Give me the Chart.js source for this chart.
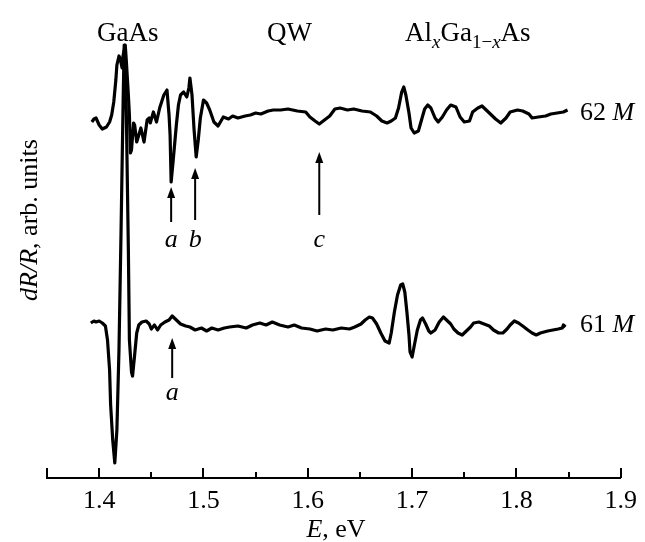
<!DOCTYPE html>
<html>
<head>
<meta charset="utf-8">
<script src="https://cdn.jsdelivr.net/npm/chart.js@4.4.1/dist/chart.umd.min.js"></script>
<style>
html,body{margin:0;padding:0;background:#fff;}
canvas{display:block;}
</style>
</head>
<body>
<canvas id="c" width="645" height="542"></canvas>
<script>
// ---- DATA ----
// Photon energy E (eV) for sample 62 M
const energy62 = [1.393,1.395,1.397,1.400,1.403,1.407,1.410,1.412,1.414,1.416,1.417,1.419,1.420,1.422,1.423,1.425,1.426,1.428,1.429,1.430,1.431,1.433,1.434,1.436,1.438,1.440,1.443,1.446,1.448,1.449,1.452,1.455,1.458,1.462,1.465,1.467,1.468,1.469,1.471,1.474,1.476,1.478,1.481,1.484,1.486,1.487,1.489,1.491,1.493,1.495,1.497,1.500,1.503,1.506,1.510,1.514,1.519,1.524,1.528,1.533,1.540,1.545,1.550,1.555,1.562,1.567,1.574,1.581,1.590,1.598,1.602,1.607,1.611,1.616,1.621,1.626,1.631,1.638,1.644,1.652,1.660,1.666,1.671,1.676,1.680,1.684,1.687,1.690,1.692,1.694,1.697,1.699,1.702,1.706,1.709,1.712,1.715,1.718,1.722,1.725,1.729,1.733,1.737,1.742,1.746,1.750,1.755,1.758,1.763,1.767,1.771,1.775,1.780,1.785,1.790,1.794,1.801,1.806,1.812,1.815,1.821,1.828,1.833,1.839,1.845,1.849];
// dR/R (arb. units) for sample 62 M
const dRR62 = [-0.09,-0.06,-0.05,-0.12,-0.16,-0.14,-0.09,-0.02,0.11,0.33,0.48,0.57,0.55,0.45,0.58,0.68,0.53,0.18,-0.02,-0.40,-0.37,-0.10,-0.12,-0.29,-0.22,-0.15,-0.29,-0.07,-0.05,-0.10,0.01,-0.09,0.05,0.18,0.23,-0.02,-0.22,-0.69,-0.47,-0.12,0.08,0.18,0.21,0.16,0.25,0.35,0.18,-0.17,-0.44,-0.27,-0.05,0.13,0.10,0.03,-0.09,-0.13,-0.04,-0.06,-0.03,-0.05,-0.03,-0.02,0.00,-0.01,0.02,0.03,0.03,0.04,0.02,0.01,-0.04,-0.08,-0.11,-0.07,-0.03,0.04,0.05,0.03,0.04,0.02,0.01,-0.03,-0.08,-0.10,-0.08,-0.05,0.05,0.21,0.26,0.18,0.00,-0.15,-0.20,-0.18,-0.07,0.04,0.08,0.05,-0.05,-0.09,-0.04,0.03,0.08,0.06,-0.04,-0.09,-0.08,0.01,0.05,0.07,0.03,-0.01,-0.06,-0.10,-0.05,0.01,0.03,0.02,-0.01,-0.05,-0.04,-0.03,-0.01,0.00,0.01,0.03];

// Photon energy E (eV) for sample 61 M
const energy61 = [1.392,1.395,1.397,1.400,1.403,1.406,1.408,1.410,1.411,1.413,1.415,1.417,1.419,1.421,1.423,1.424,1.426,1.428,1.429,1.431,1.432,1.434,1.436,1.438,1.441,1.445,1.448,1.450,1.453,1.456,1.459,1.463,1.467,1.470,1.474,1.478,1.483,1.487,1.492,1.498,1.503,1.508,1.514,1.520,1.525,1.533,1.541,1.547,1.554,1.560,1.566,1.573,1.581,1.587,1.594,1.602,1.609,1.617,1.624,1.632,1.640,1.645,1.651,1.655,1.659,1.662,1.666,1.670,1.674,1.678,1.680,1.683,1.686,1.689,1.691,1.693,1.695,1.697,1.698,1.700,1.702,1.705,1.708,1.710,1.713,1.716,1.718,1.722,1.726,1.730,1.733,1.737,1.740,1.744,1.748,1.752,1.756,1.759,1.764,1.769,1.774,1.778,1.783,1.787,1.791,1.794,1.798,1.802,1.806,1.811,1.815,1.819,1.823,1.830,1.835,1.840,1.844,1.845,1.847];
// dR/R (arb. units) for sample 61 M
const dRR61 = [0.02,0.04,0.03,0.04,0.02,-0.01,-0.15,-0.45,-0.80,-1.15,-1.38,-1.05,-0.25,0.95,2.25,2.80,2.15,0.75,-0.15,-0.47,-0.51,-0.30,-0.08,0.00,0.03,0.04,0.01,-0.04,0.00,-0.05,0.00,0.03,0.05,0.09,0.05,0.01,-0.01,-0.02,-0.05,-0.03,-0.06,-0.03,-0.05,-0.03,-0.02,-0.01,-0.03,0.00,0.02,0.00,0.03,0.00,-0.02,0.00,-0.03,-0.04,-0.06,-0.04,-0.05,-0.03,-0.04,-0.02,0.01,0.05,0.08,0.07,0.01,-0.08,-0.16,-0.18,-0.08,0.13,0.30,0.40,0.41,0.33,0.13,-0.10,-0.27,-0.32,-0.21,-0.05,0.05,0.07,0.01,-0.06,-0.08,-0.05,0.03,0.08,0.05,0.01,-0.04,-0.08,-0.10,-0.06,-0.02,0.02,0.03,0.01,-0.01,-0.05,-0.08,-0.08,-0.04,0.00,0.04,0.02,-0.01,-0.05,-0.08,-0.10,-0.08,-0.06,-0.05,-0.04,-0.03,0.00,-0.02];

// Vertical offsets of the two curves (arb. units)
const offset62 = 3.65;
const offset61 = 1.53;

// X-axis ticks
const xMin = 1.35, xMax = 1.9, xStep = 0.05;
const majorTicks = [1.4, 1.5, 1.6, 1.7, 1.8, 1.9];

// Annotation arrows: energy, tip, tail, label position, letter
const arrowE   = [1.469, 1.492, 1.611, 1.470];
const arrowTip = [2.91, 3.10, 3.26, 1.40];
const arrowTail= [2.56, 2.58, 2.63, 1.00];
const arrowLbl = [2.38, 2.38, 2.38, 0.85];
const arrowTxt = ['a', 'b', 'c', 'a'];

const FONT = '"Liberation Serif", "Times New Roman", serif';
const FS = 26;

function mk(xs, ys, off){ return xs.map((x,i)=>({x:x, y:ys[i]+off})); }

const deco = {
  id:'deco',
  afterDraw(chart){
    const ctx = chart.ctx, xs = chart.scales.x, ys = chart.scales.y;
    const base = chart.chartArea.bottom;
    ctx.save();
    ctx.strokeStyle = '#000'; ctx.fillStyle = '#000';
    // tick marks (inside, upward)
    ctx.lineWidth = 2;
    xs.ticks.forEach(t=>{
      const v = t.value;
      const isMaj = majorTicks.some(m=>Math.abs(m-v)<1e-6) || Math.abs(v-xMin)<1e-6;
      const px = Math.round(xs.getPixelForValue(v));
      ctx.beginPath(); ctx.moveTo(px, base); ctx.lineTo(px, base-(isMaj?10:6)); ctx.stroke();
    });
    // arrows
    ctx.lineWidth = 2;
    for(let i=0;i<arrowE.length;i++){
      const px = xs.getPixelForValue(arrowE[i]);
      const yt = ys.getPixelForValue(arrowTip[i]);
      const yb = ys.getPixelForValue(arrowTail[i]);
      ctx.beginPath(); ctx.moveTo(px, yb); ctx.lineTo(px, yt+8); ctx.stroke();
      ctx.beginPath(); ctx.moveTo(px, yt); ctx.lineTo(px-4, yt+11); ctx.lineTo(px+4, yt+11); ctx.closePath(); ctx.fill();
      ctx.font = 'italic '+FS+'px '+FONT;
      ctx.textAlign='center'; ctx.textBaseline='middle';
      ctx.fillText(arrowTxt[i], px, ys.getPixelForValue(arrowLbl[i]));
    }
    // series labels
    ctx.textBaseline='middle'; ctx.textAlign='left';
    const lx = xs.getPixelForValue(1.861);
    [['62 ', offset62], ['61 ', offset61]].forEach(([s,off])=>{
      const py = ys.getPixelForValue(off);
      ctx.font = FS+'px '+FONT; ctx.fillText(s, lx, py);
      const w = ctx.measureText(s).width;
      ctx.font = 'italic '+FS+'px '+FONT; ctx.fillText('M', lx+w, py);
    });
    // top region labels
    ctx.textBaseline='alphabetic'; ctx.textAlign='left';
    const TF = 27;
    ctx.font = TF+'px '+FONT;
    ctx.fillText('GaAs', 97, 41);
    ctx.fillText('QW', 267, 41);
    let x = 405;
    const seg = (t, f, dy)=>{ ctx.font=f; ctx.fillText(t, x, 41+dy); x += ctx.measureText(t).width; };
    seg('Al', TF+'px '+FONT, 0);
    seg('x', 'italic 19px '+FONT, 7);
    seg('Ga', TF+'px '+FONT, 0);
    seg('1\u2212', '19px '+FONT, 7);
    seg('x', 'italic 19px '+FONT, 7);
    seg('As', TF+'px '+FONT, 0);
    // x title
    ctx.textBaseline='middle';
    ctx.font = 'italic '+FS+'px '+FONT;
    const wE = ctx.measureText('E').width;
    ctx.font = FS+'px '+FONT;
    const wR = ctx.measureText(', eV').width;
    let tx = 336 - (wE+wR)/2;
    ctx.font = 'italic '+FS+'px '+FONT; ctx.fillText('E', tx, 530);
    ctx.font = FS+'px '+FONT; ctx.fillText(', eV', tx+wE, 530);
    // y title
    ctx.translate(30, 220); ctx.rotate(-Math.PI/2);
    ctx.font = 'italic '+FS+'px '+FONT;
    const w1 = ctx.measureText('dR/R').width;
    ctx.font = FS+'px '+FONT;
    const w2 = ctx.measureText(', arb. units').width;
    let sx = -(w1+w2)/2;
    ctx.font = 'italic '+FS+'px '+FONT; ctx.fillText('dR/R', sx, 0);
    ctx.font = FS+'px '+FONT; ctx.fillText(', arb. units', sx+w1, 0);
    ctx.restore();
  }
};

new Chart(document.getElementById('c'), {
  type:'line',
  data:{ datasets:[
    {label:'62 M', data: mk(energy62, dRR62, offset62), borderColor:'#000', borderWidth:3.2, pointRadius:0, tension:0, fill:false, borderJoinStyle:'round'},
    {label:'61 M', data: mk(energy61, dRR61, offset61), borderColor:'#000', borderWidth:3.2, pointRadius:0, tension:0, fill:false, borderJoinStyle:'round'}
  ]},
  options:{
    responsive:false, animation:false, devicePixelRatio:1,
    layout:{padding:{left:47, right:19, top:0, bottom:0}},
    plugins:{legend:{display:false}, tooltip:{enabled:false}},
    scales:{
      x:{type:'linear', min:xMin, max:xMax,
         grid:{display:false, drawTicks:false},
         border:{display:true, color:'#000', width:2},
         ticks:{stepSize:xStep, autoSkip:false, maxRotation:0, padding:8, color:'#000',
           font:{family:FONT, size:FS},
           callback:(v)=> majorTicks.some(m=>Math.abs(m-v)<1e-6) ? v.toFixed(1) : ''},
         afterFit:(s)=>{ s.height = 64; }
      },
      y:{type:'linear', display:false, min:0, max:4.78}
    }
  },
  plugins:[deco]
});
</script>
</body>
</html>
